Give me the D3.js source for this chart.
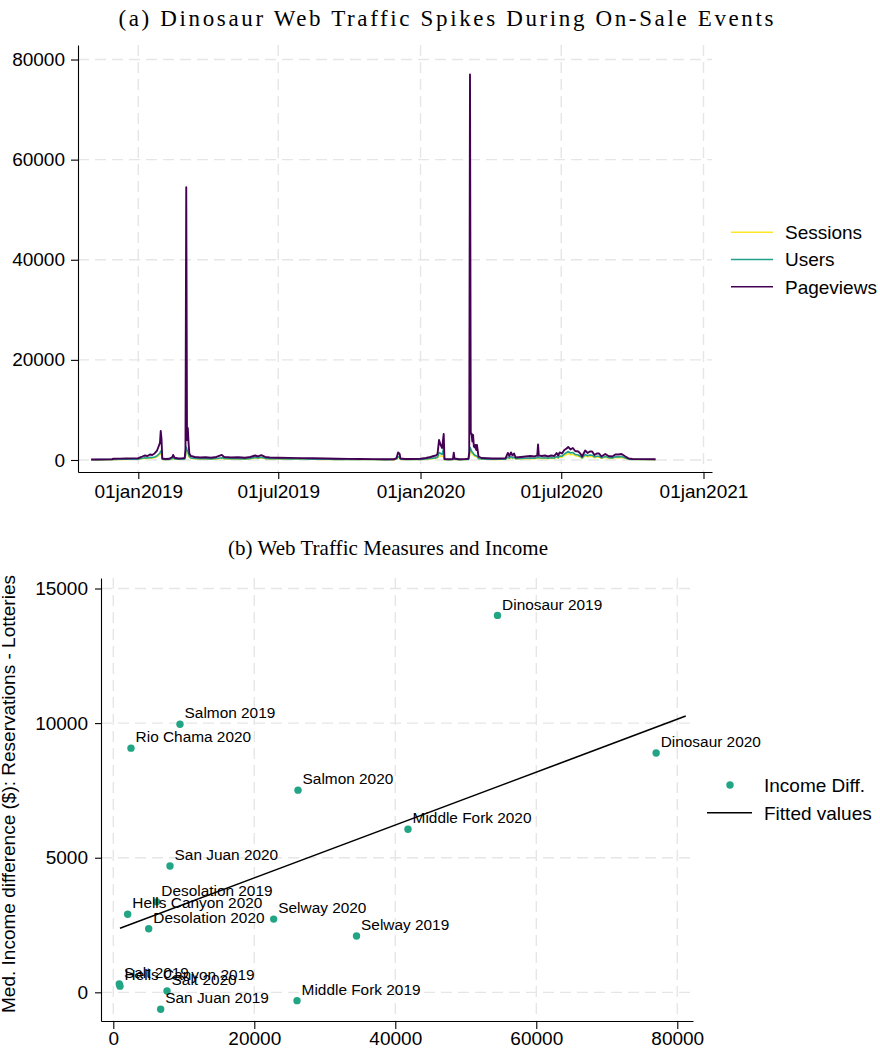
<!DOCTYPE html>
<html>
<head>
<meta charset="utf-8">
<script src="https://cdn.jsdelivr.net/npm/d3@7"></script>
<style>
  body { margin: 0; background: #fff; }
  svg { display: block; }
</style>
</head>
<body>
<svg id="fig" width="880" height="1055"></svg>
<script>
// ---- Panel (a): daily web traffic ----
const trafficDates = [
  "2018-11-01","2018-11-10","2018-11-20","2018-11-28","2018-11-30","2018-12-08","2018-12-16","2018-12-24",
  "2019-01-01","2019-01-05","2019-01-09","2019-01-13","2019-01-16","2019-01-19","2019-01-22","2019-01-25",
  "2019-01-27","2019-01-29","2019-01-30","2019-01-31","2019-02-01","2019-02-05","2019-02-10","2019-02-14",
  "2019-02-15","2019-02-17","2019-02-22","2019-02-27","2019-03-02","2019-03-03","2019-03-04","2019-03-05",
  "2019-03-06","2019-03-07","2019-03-08","2019-03-10","2019-03-15","2019-03-22","2019-03-29","2019-04-05",
  "2019-04-12","2019-04-19","2019-04-22","2019-05-01","2019-05-10","2019-05-19","2019-05-26","2019-06-01",
  "2019-06-05","2019-06-09","2019-06-14","2019-06-20","2019-07-01","2019-07-15","2019-08-01","2019-08-15",
  "2019-09-01","2019-09-15","2019-10-01","2019-10-15","2019-11-01","2019-11-15","2019-11-28","2019-12-01",
  "2019-12-03","2019-12-05","2019-12-06","2019-12-12","2019-12-20","2020-01-01","2020-01-08","2020-01-14",
  "2020-01-18","2020-01-21","2020-01-23","2020-01-25","2020-01-27","2020-01-29","2020-01-31","2020-02-01",
  "2020-02-07","2020-02-12","2020-02-13","2020-02-14","2020-02-20","2020-02-28","2020-03-03","2020-03-04",
  "2020-03-05","2020-03-06","2020-03-07","2020-03-08","2020-03-09","2020-03-10","2020-03-11","2020-03-12",
  "2020-03-13","2020-03-14","2020-03-16","2020-03-20","2020-03-27","2020-04-03","2020-04-12","2020-04-20",
  "2020-04-23","2020-04-25","2020-04-27","2020-04-29","2020-05-01","2020-05-03","2020-05-10","2020-05-16",
  "2020-05-22","2020-05-28","2020-05-31","2020-06-01","2020-06-02","2020-06-06","2020-06-10","2020-06-14",
  "2020-06-18","2020-06-22","2020-06-25","2020-06-27","2020-06-29","2020-07-02","2020-07-05","2020-07-08",
  "2020-07-10","2020-07-13","2020-07-16","2020-07-19","2020-07-23","2020-07-26","2020-07-28","2020-08-01",
  "2020-08-04","2020-08-07","2020-08-10","2020-08-13","2020-08-16","2020-08-19","2020-08-22","2020-08-27",
  "2020-08-31","2020-09-05","2020-09-09","2020-09-13","2020-09-17","2020-09-22","2020-09-26","2020-10-01",
  "2020-10-15","2020-10-31"
];
const pageviews = [
  100,110,120,150,260,280,300,320,
  350,600,900,800,1100,1000,1300,1800,
  2600,3400,5800,4200,300,200,250,600,
  1000,450,300,350,400,2200,54500,4000,
  6400,3400,1300,800,600,500,550,450,
  600,1000,600,500,550,450,600,900,
  700,950,600,500,450,420,380,350,
  300,250,220,200,180,150,160,400,
  1500,1200,300,200,200,250,400,600,
  800,900,1200,4000,3000,2400,5200,200,
  150,200,1450,300,150,200,250,1500,
  77000,5300,5300,3700,5000,2700,2500,3000,
  2000,3000,700,400,350,300,300,350,
  1400,800,1500,900,1300,500,600,700,
  800,700,900,3100,900,800,900,700,
  900,800,1400,900,1500,1300,2000,2300,
  2600,2100,2400,1800,1700,1200,700,1900,
  1400,1700,1700,1000,1300,1300,700,1200,
  800,700,1100,1100,1200,700,330,200,
  180,150
];
const users = [
  60,65,70,85,130,140,150,160,
  180,290,430,390,520,480,600,800,
  1100,1400,1800,1500,150,100,120,280,
  450,220,150,170,200,900,2600,2000,
  1700,1200,700,400,300,250,270,220,
  290,450,290,250,270,220,300,520,
  420,550,330,270,240,220,200,180,
  160,130,115,105,95,80,85,200,
  650,550,150,100,100,130,200,290,
  380,430,560,1500,1300,1100,2400,100,
  80,100,600,150,80,100,130,700,
  2500,2200,1800,1500,1400,1100,1000,900,
  850,800,300,200,170,150,150,170,
  600,380,650,420,580,250,300,350,
  400,350,450,800,450,400,450,350,
  450,400,700,480,800,750,1200,1500,
  1700,1400,1500,1100,1000,700,420,1100,
  850,1000,950,600,750,750,420,700,
  480,420,620,620,680,400,180,110,
  100,85
];
const sessions = [
  45,50,55,65,100,110,120,125,
  140,220,330,300,400,370,460,620,
  850,1050,1300,1100,110,80,95,210,
  350,170,120,130,150,700,2000,1500,
  1300,900,520,300,230,190,200,170,
  220,340,220,190,200,170,230,400,
  320,420,250,200,180,170,150,140,
  120,100,90,80,75,60,65,150,
  500,420,110,80,80,100,150,220,
  290,330,430,900,800,750,700,80,
  60,80,450,110,60,80,100,500,
  1900,1700,1400,1150,1050,850,750,700,
  650,600,230,150,130,120,120,130,
  450,290,500,320,440,190,230,270,
  300,270,340,600,340,300,340,270,
  340,300,530,360,600,560,900,1100,
  1300,1050,1150,850,760,530,320,850,
  650,760,720,450,570,570,320,530,
  360,320,470,470,510,300,140,85,
  75,65
];
const seriesNames = ["Sessions", "Users", "Pageviews"];
const seriesColors = ["#fde725", "#23a08a", "#440154"];
const trafficXTicks = ["2019-01-01", "2019-07-01", "2020-01-01", "2020-07-01", "2021-01-01"];
const trafficYTicks = [0, 20000, 40000, 60000, 80000];

// ---- Panel (b): peak pageviews vs. income difference ----
const trips = [
  "Dinosaur 2019", "Dinosaur 2020", "Salmon 2019", "Rio Chama 2020", "Salmon 2020",
  "Middle Fork 2020", "San Juan 2020", "Desolation 2019", "Hells Canyon 2020", "Desolation 2020",
  "Selway 2020", "Selway 2019", "Salt 2019", "Hells Canyon 2019", "Salt 2020",
  "San Juan 2019", "Middle Fork 2019"
];
const peakPageviews = [
  54500, 77000, 9460, 2510, 26200,
  41800, 8040, 6160, 2040, 5020,
  22750, 34500, 850, 950, 7620,
  6720, 26060
];
const incomeDiff = [
  14000, 8890, 9960, 9070, 7510,
  6060, 4690, 3360, 2900, 2360,
  2720, 2090, 310, 230, 50,
  -630, -310
];
// fitted values at the two ends of the fitted line
const fitX = [950, 81200];
const fitY = [2380, 10260];
const incomeXTicks = [0, 20000, 40000, 60000, 80000];
const incomeYTicks = [0, 5000, 10000, 15000];

const SANS = "'Liberation Sans', Arial, sans-serif";
const SERIF = "'Liberation Serif', 'DejaVu Serif', serif";
const GRID = "#e6e6e6";

const svg = d3.select("#fig");
const parse = d3.utcParse("%Y-%m-%d");

function grid(g, x0, x1, y0, y1, xs, ys) {
  g.selectAll(null).data(ys).join("line")
    .attr("x1", x0).attr("x2", x1).attr("y1", d => d).attr("y2", d => d);
  g.selectAll(null).data(xs).join("line")
    .attr("x1", d => d).attr("x2", d => d).attr("y1", y0).attr("y2", y1);
  g.selectAll("line")
    .attr("stroke", GRID).attr("stroke-width", 1.4).attr("stroke-dasharray", "11,6");
}

function styleAxis(g) {
  g.selectAll("path.domain").attr("stroke", "#000").attr("stroke-width", 1.1);
  g.selectAll(".tick line").attr("stroke", "#000").attr("stroke-width", 1.1);
  g.selectAll(".tick text").attr("fill", "#000").style("font-family", SANS).style("font-size", "19px");
}

// panel title, letter-spaced so it spans the given width
function title(cx, baseline, width, size, label) {
  const t = svg.append("text")
    .attr("x", cx).attr("y", baseline).attr("text-anchor", "middle")
    .style("font-family", SERIF).style("font-size", size + "px")
    .text(label);
  const extra = width - t.node().getComputedTextLength();
  if (extra > 0) {
    const ls = extra / (label.length - 1);
    t.style("letter-spacing", ls + "px").attr("x", cx + ls / 2);
  }
}

// ================= Panel (a) =================
const xT = d3.scaleUtc().domain([parse("2018-10-15"), parse("2021-01-12")]).range([78, 712]);
const yT = d3.scaleLinear().domain([-2400, 82900]).range([472, 45]);

title(446, 26, 655, 23, "(a) Dinosaur Web Traffic Spikes During On-Sale Events");

grid(svg.append("g"), 78, 712, 45, 472,
  trafficXTicks.map(d => xT(parse(d))), trafficYTicks.map(d => yT(d)));

const dates = trafficDates.map(parse);
const seriesValues = [sessions, users, pageviews];
const widths = [1.5, 1.6, 1.9];
seriesValues.forEach((vals, i) => {
  const line = d3.line().x((d, j) => xT(dates[j])).y(d => yT(d));
  svg.append("path")
    .attr("d", line(vals))
    .attr("fill", "none")
    .attr("stroke", seriesColors[i])
    .attr("stroke-width", widths[i])
    .attr("stroke-linejoin", "round");
});

const fmtDate = d => d3.utcFormat("%d%b%Y")(d).toLowerCase();
const axTx = svg.append("g").attr("transform", "translate(0,472)")
  .call(d3.axisBottom(xT).tickValues(trafficXTicks.map(parse)).tickFormat(fmtDate)
    .tickSize(7).tickSizeOuter(0).tickPadding(6));
styleAxis(axTx);
const axTy = svg.append("g").attr("transform", "translate(78,0)")
  .call(d3.axisLeft(yT).tickValues(trafficYTicks).tickFormat(d3.format("d"))
    .tickSize(7).tickSizeOuter(0).tickPadding(6));
styleAxis(axTy);

// legend
const legA = svg.append("g");
seriesNames.forEach((name, i) => {
  const y = 232.3 + i * 27.2;
  legA.append("line").attr("x1", 731).attr("x2", 773).attr("y1", y).attr("y2", y)
    .attr("stroke", seriesColors[i]).attr("stroke-width", 1.6);
  legA.append("text").attr("x", 785).attr("y", y + 6.8)
    .style("font-family", SANS).style("font-size", "19px").text(name);
});

// ================= Panel (b) =================
const xB = d3.scaleLinear().domain([-1745, 82230]).range([101, 693]);
const yB = d3.scaleLinear().domain([-1065, 15390]).range([1021, 578]);

title(388, 555, 320, 21, "(b) Web Traffic Measures and Income");

grid(svg.append("g"), 101, 693, 578, 1021,
  incomeXTicks.map(d => xB(d)), incomeYTicks.map(d => yB(d)));

svg.append("path")
  .attr("d", d3.line().x(d => xB(d)).y((d, i) => yB(fitY[i]))(fitX))
  .attr("fill", "none").attr("stroke", "#000").attr("stroke-width", 1.6);

const pts = svg.append("g");
trips.forEach((name, i) => {
  const cx = xB(peakPageviews[i]), cy = yB(incomeDiff[i]);
  pts.append("circle").attr("cx", cx).attr("cy", cy).attr("r", 3.7).attr("fill", "#22a585");
  pts.append("text").attr("x", cx + 4.6).attr("y", cy - 5.8)
    .style("font-family", SANS).style("font-size", "15.4px").text(name);
});

const axBx = svg.append("g").attr("transform", "translate(0,1021)")
  .call(d3.axisBottom(xB).tickValues(incomeXTicks).tickFormat(d3.format("d"))
    .tickSize(8).tickSizeOuter(0).tickPadding(3));
styleAxis(axBx);
const axBy = svg.append("g").attr("transform", "translate(101,0)")
  .call(d3.axisLeft(yB).tickValues(incomeYTicks).tickFormat(d3.format("d"))
    .tickSize(6).tickSizeOuter(0).tickPadding(7));
styleAxis(axBy);

svg.append("text")
  .attr("transform", "translate(15,794) rotate(-90)")
  .attr("text-anchor", "middle")
  .style("font-family", SANS).style("font-size", "19px")
  .text("Med. Income difference ($): Reservations - Lotteries");

// legend
const legB = svg.append("g");
legB.append("circle").attr("cx", 730).attr("cy", 785).attr("r", 3.7).attr("fill", "#22a585");
legB.append("text").attr("x", 764).attr("y", 791.8)
  .style("font-family", SANS).style("font-size", "19px").text("Income Diff.");
legB.append("line").attr("x1", 707).attr("x2", 752).attr("y1", 812.7).attr("y2", 812.7)
  .attr("stroke", "#000").attr("stroke-width", 1.6);
legB.append("text").attr("x", 764).attr("y", 819.5)
  .style("font-family", SANS).style("font-size", "19px").text("Fitted values");
</script>
</body>
</html>
